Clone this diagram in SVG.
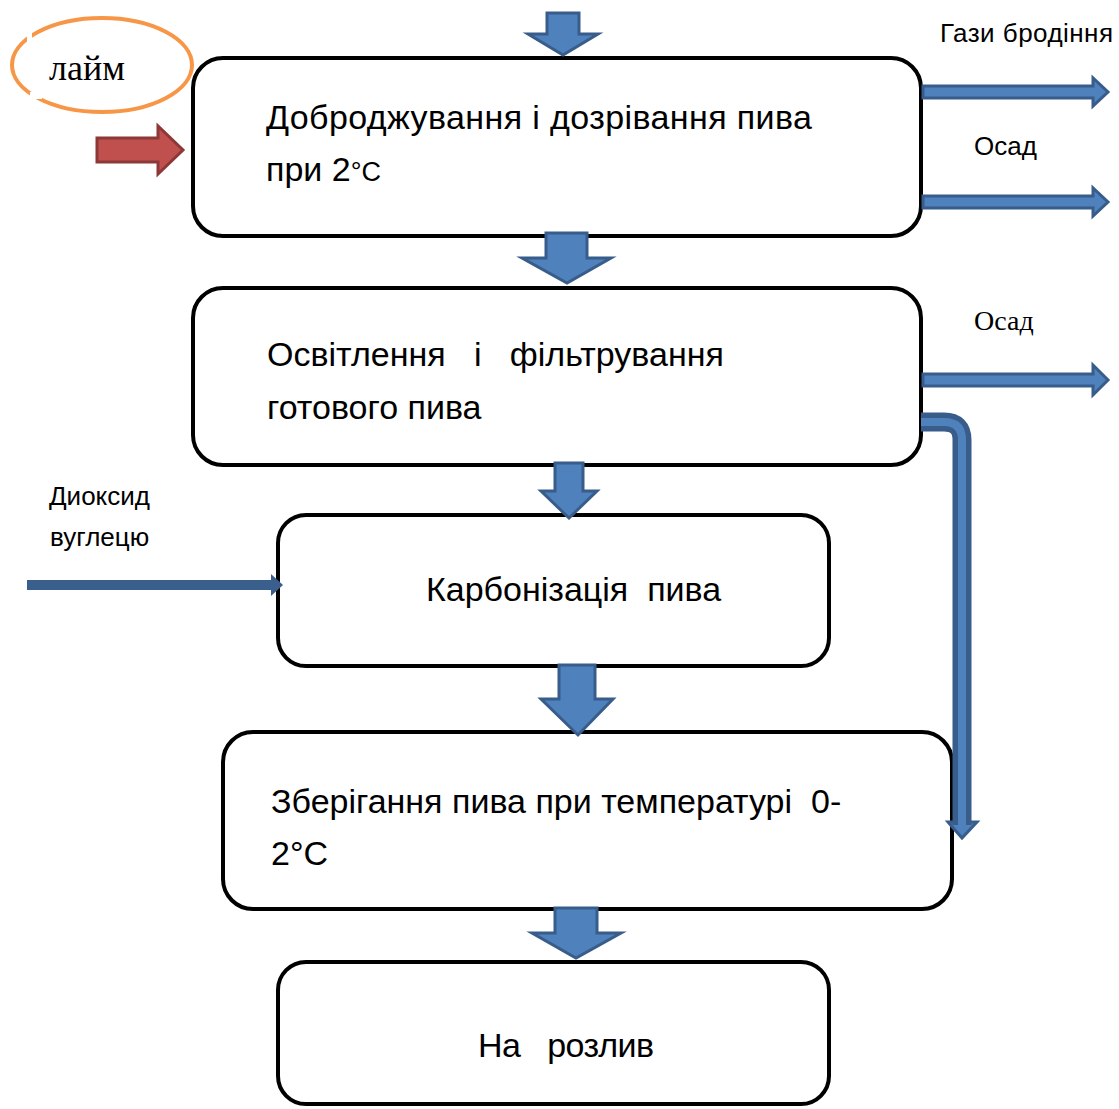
<svg xmlns="http://www.w3.org/2000/svg" width="1119" height="1109" viewBox="0 0 1119 1109">
<style>
.box{fill:#fff;stroke:#000;stroke-width:4}
.blk{fill:#4F81BD;stroke:#385D8A;stroke-width:3;stroke-linejoin:miter}
.t{font-family:"Liberation Sans",Arial,sans-serif;font-size:34px;fill:#000}
.s{font-family:"Liberation Sans",Arial,sans-serif;font-size:26px;fill:#000}
.sr{font-family:"Liberation Serif","Times New Roman",serif;fill:#000}
</style>
<rect width="1119" height="1109" fill="#fff"/>
<g id="lime">
<ellipse cx="102" cy="65" rx="90" ry="47" fill="none" stroke="#F79646" stroke-width="4"/>
<rect x="27" y="33" width="5" height="9" fill="#fff"/>
<rect x="30" y="92" width="12" height="7" fill="#fff"/>
<text class="sr" x="49" y="80" font-size="36">лайм</text>
</g>
<g id="box1">
<rect class="box" x="193" y="58" width="728" height="178" rx="30"/>
<text class="t" x="266" y="129" textLength="546">Доброджування і дозрівання пива</text>
<text class="t" x="266" y="181">при 2<tspan font-size="27">°C</tspan></text>
</g>
<g id="box2">
<rect class="box" x="193" y="288" width="728" height="177" rx="30"/>
<text class="t" x="267" y="366" xml:space="preserve">Освітлення   і   фільтрування</text>
<text class="t" x="267" y="419">готового пива</text>
</g>
<g id="box3">
<rect class="box" x="278" y="515" width="551" height="151" rx="28"/>
<text class="t" x="426" y="601" xml:space="preserve">Карбонізація  пива</text>
</g>
<g id="box4">
<rect class="box" x="223" y="732" width="729" height="177" rx="30"/>
<text class="t" x="271" y="813" xml:space="preserve">Зберігання пива при температурі  0-</text>
<text class="t" x="271" y="865">2°C</text>
</g>
<g id="box5">
<rect class="box" x="278" y="962" width="551" height="142" rx="28"/>
<text class="t" x="478" y="1057" xml:space="preserve" textLength="176">На   розлив</text>
</g>
<g id="labels">
<text class="s" x="940" y="42" textLength="173">Гази бродіння</text>
<text class="s" x="974" y="155">Осад</text>
<text class="sr" x="974" y="330" font-size="28">Осад</text>
<text class="s" x="49" y="505" font-size="27">Диоксид</text>
<text class="s" x="50" y="546" font-size="27">вуглецю</text>
</g>
<g id="connectors">
<polygon class="blk" points="547,13 579,13 579,34 598,34 563,55 528,34 547,34"/>
<polygon class="blk" points="546,233 587,233 587,258 611,258 567,283 522,258 546,258"/>
<polygon class="blk" points="555,463 583,463 583,491 597,491 569,518 541,491 555,491"/>
<polygon class="blk" points="559,665 595,665 595,699 613,699 578,735 541,699 559,699"/>
<polygon class="blk" points="555,908 597,908 597,933 621,933 576,958 532,933 555,933"/>
<polygon points="97,138 158,138 158,126 183,150 158,174 158,162 97,162" fill="#C0504D" stroke="#8C3836" stroke-width="3"/>
<polygon class="blk" points="923,86 1093,86 1093,78 1108,92 1093,106 1093,98 923,98"/>
<polygon class="blk" points="923,196 1093,196 1093,188 1108,202 1093,216 1093,208 923,208"/>
<polygon class="blk" points="923,374 1093,374 1093,365 1108,380 1093,395 1093,386 923,386"/>
<polygon class="blk" points="948,822 977,822 962,838"/>
<path d="M921 422 H944 Q962 422 962 440 V825" fill="none" stroke="#385D8A" stroke-width="19"/>
<path d="M921 422 H944 Q962 422 962 440 V829" fill="none" stroke="#4F81BD" stroke-width="8"/>
<rect x="27" y="580" width="245" height="10" fill="#3B5F8D"/>
<polygon points="271,574 283,585 271,596" fill="#3B5F8D"/>
</g>
</svg>
